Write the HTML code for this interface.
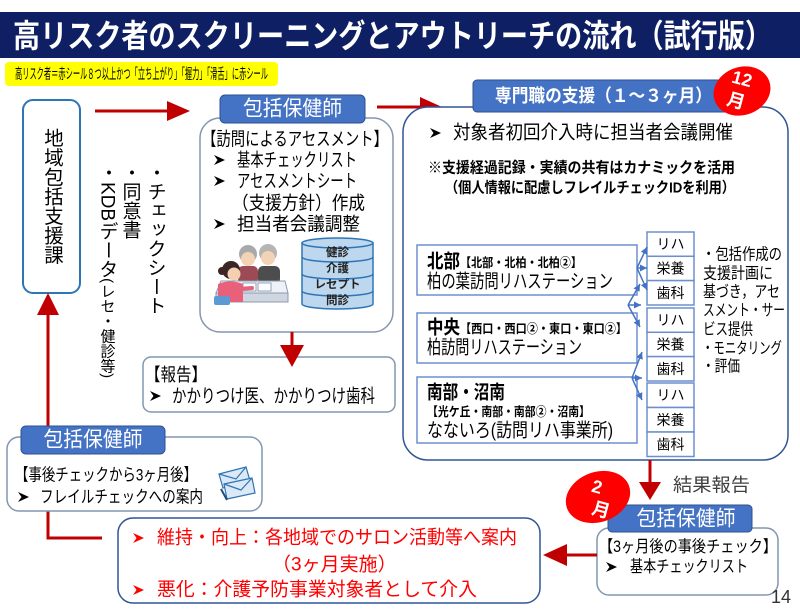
<!DOCTYPE html>
<html><head><meta charset="utf-8">
<style>
html,body{margin:0;padding:0;background:#fff;}
#c{position:relative;width:800px;height:611px;overflow:hidden;background:#fff;font-family:"Liberation Sans","Noto Sans CJK JP",sans-serif;}
svg{position:absolute;left:0;top:0;}
svg text{font-family:"Liberation Sans","Noto Sans CJK JP",sans-serif;dominant-baseline:central;}
.v{position:absolute;writing-mode:vertical-rl;white-space:nowrap;line-height:1;color:#000;font-family:"Liberation Sans","Noto Sans CJK JP",sans-serif;}
</style></head>
<body><div id="c">
<svg width="800" height="611" viewBox="0 0 800 611" xmlns="http://www.w3.org/2000/svg">
<defs>
<marker id="ba" markerUnits="userSpaceOnUse" markerWidth="8" markerHeight="8" refX="7" refY="3.5" orient="auto"><path d="M0,0 L7,3.5 L0,7 z" fill="#4472c4"/></marker>
<g id="chev"><path d="M0,-5 L11,0 L0,5 L3.5,0 z"/></g>
</defs>

<!-- Title -->
<rect x="0" y="12" width="800" height="46" fill="#0e2063"/>
<text x="13" y="36" font-size="32" font-weight="bold" fill="#fff" textLength="759" lengthAdjust="spacingAndGlyphs">高リスク者のスクリーニングとアウトリーチの流れ（試行版）</text>

<!-- Yellow note -->
<rect x="5" y="62" width="273" height="24" rx="4" fill="#ffff00"/>
<text x="15" y="75" font-size="14.5" fill="#000" textLength="253" lengthAdjust="spacingAndGlyphs">高リスク者＝赤シール８つ以上かつ「立ち上がり」「握力」「滑舌」に赤シール</text>

<!-- Left box -->
<rect x="23" y="100" width="57" height="193" rx="10" fill="#fff" stroke="#2e75b6" stroke-width="2"/>

<!-- Red arrows -->
<line x1="95" y1="111" x2="170" y2="111" stroke="#c00000" stroke-width="3"/>
<polygon points="167,101 190,111 167,121" fill="#c00000"/>
<line x1="377" y1="107" x2="424" y2="107" stroke="#c00000" stroke-width="3"/>
<polygon points="420,97 442,107 420,118" fill="#c00000"/>
<line x1="48" y1="312" x2="48" y2="427" stroke="#c00000" stroke-width="3"/>
<polygon points="37,315 59,315 48,293" fill="#c00000"/>
<polyline points="48,511 48,538 102,538" fill="none" stroke="#c00000" stroke-width="3"/>

<!-- Middle main box -->
<rect x="200" y="118" width="193" height="214" rx="20" fill="#fff" stroke="#8496b0" stroke-width="1.5"/>
<rect x="220" y="95" width="145" height="28" rx="5" fill="#4472c4" stroke="#2f528f" stroke-width="1"/>
<text x="292.5" y="109" font-size="21" fill="#fff" text-anchor="middle" textLength="99" lengthAdjust="spacingAndGlyphs">包括保健師</text>
<text x="202" y="139" font-size="18.5" fill="#000" textLength="186" lengthAdjust="spacingAndGlyphs">【訪問によるアセスメント】</text>
<use href="#chev" x="214" y="160"/>
<text x="237" y="160" font-size="18.5" fill="#000" textLength="120" lengthAdjust="spacingAndGlyphs">基本チェックリスト</text>
<use href="#chev" x="214" y="181"/>
<text x="237" y="181" font-size="18.5" fill="#000" textLength="120" lengthAdjust="spacingAndGlyphs">アセスメントシート</text>
<text x="232" y="203" font-size="18.5" fill="#000" textLength="133" lengthAdjust="spacingAndGlyphs">（支援方針）作成</text>
<use href="#chev" x="214" y="224"/>
<text x="237" y="224" font-size="18.5" fill="#000" textLength="123" lengthAdjust="spacingAndGlyphs">担当者会議調整</text>

<!-- Illustration -->
<circle cx="248" cy="254" r="9" fill="#a9a9a9"/>
<circle cx="248" cy="259" r="7" fill="#f3d3b5"/>
<rect x="238" y="266" width="20" height="18" rx="5" fill="#9c4a55"/>
<circle cx="268" cy="253" r="9" fill="#b5b5b5"/>
<circle cx="268" cy="258" r="7" fill="#f3d3b5"/>
<rect x="258" y="266" width="22" height="18" rx="5" fill="#4d4d4d"/>
<polygon points="221,281 285,281 288,293 216,293" fill="#eef2f7" stroke="#8a9bb0" stroke-width="1"/>
<rect x="216" y="293" width="72" height="9" fill="#cfd6e0" stroke="#8a9bb0" stroke-width="1"/>
<rect x="243" y="283" width="13" height="8" fill="#fff" stroke="#7b8fb0" stroke-width="0.8"/>
<rect x="258" y="283" width="13" height="8" fill="#fff" stroke="#7b8fb0" stroke-width="0.8"/>
<circle cx="222" cy="271" r="4" fill="#3b2626"/>
<circle cx="231" cy="270" r="9" fill="#3b2626"/>
<circle cx="234" cy="274" r="6.5" fill="#f5d0b0"/>
<path d="M218,284 Q230,279 243,284 L243,302 L218,302 Z" fill="#e8607a"/>
<line x1="238" y1="289" x2="252" y2="288" stroke="#e8607a" stroke-width="4" stroke-linecap="round"/>
<rect x="214" y="296" width="16" height="9" rx="2" fill="#5b9bd5"/>

<!-- Database cylinder -->
<path d="M302,243 L302,304 A35.5,5 0 0 0 373,304 L373,243 Z" fill="#bdd7ee" stroke="#2e75b6" stroke-width="1.5"/>
<ellipse cx="337.5" cy="243" rx="35.5" ry="5" fill="#bdd7ee" stroke="#2e75b6" stroke-width="1.5"/>
<path d="M302,257 A35.5,5 0 0 0 373,257" fill="none" stroke="#2e75b6" stroke-width="1.5"/>
<path d="M302,274 A35.5,5 0 0 0 373,274" fill="none" stroke="#2e75b6" stroke-width="1.5"/>
<path d="M302,291 A35.5,5 0 0 0 373,291" fill="none" stroke="#2e75b6" stroke-width="1.5"/>
<text x="337.5" y="253" font-size="11.5" font-weight="bold" fill="#222" text-anchor="middle">健診</text>
<text x="337.5" y="269" font-size="11.5" font-weight="bold" fill="#222" text-anchor="middle">介護</text>
<text x="337.5" y="285" font-size="11.5" font-weight="bold" fill="#222" text-anchor="middle">レセプト</text>
<text x="337.5" y="301" font-size="11.5" font-weight="bold" fill="#222" text-anchor="middle">問診</text>

<!-- Report box + arrow -->
<rect x="143" y="357" width="252" height="55" rx="8" fill="#fff" stroke="#8496b0" stroke-width="1.5"/>
<line x1="292" y1="332" x2="292" y2="348" stroke="#c00000" stroke-width="3"/>
<polygon points="280,345 304,345 292,367" fill="#c00000"/>
<text x="145" y="375" font-size="18" fill="#000" textLength="62" lengthAdjust="spacingAndGlyphs">【報告】</text>
<use href="#chev" x="150" y="396"/>
<text x="172" y="396" font-size="18.5" fill="#000" textLength="203" lengthAdjust="spacingAndGlyphs">かかりつけ医、かかりつけ歯科</text>

<!-- Right big box -->
<rect x="403" y="107" width="385" height="353" rx="25" fill="#fff" stroke="#2f5597" stroke-width="1.5"/>
<rect x="473" y="80" width="262" height="32" rx="4" fill="#4472c4" stroke="#2f528f" stroke-width="1"/>
<text x="495" y="96" font-size="18" font-weight="bold" fill="#fff" textLength="217" lengthAdjust="spacingAndGlyphs">専門職の支援（１～３ヶ月）</text>
<ellipse cx="742" cy="91" rx="29" ry="24" fill="#ff0000" transform="rotate(-20 742 91)"/>
<text x="742" y="79" font-size="18" font-weight="bold" fill="#fff" text-anchor="middle" transform="rotate(15 742 79)">12</text>
<text x="736" y="101" font-size="18" font-weight="bold" fill="#fff" text-anchor="middle" transform="rotate(15 736 101)">月</text>

<use href="#chev" x="430" y="133"/>
<text x="453" y="133" font-size="19" fill="#000" textLength="280" lengthAdjust="spacingAndGlyphs">対象者初回介入時に担当者会議開催</text>
<text x="428" y="168" font-size="15" font-weight="bold" fill="#000" textLength="307" lengthAdjust="spacingAndGlyphs">※支援経過記録・実績の共有はカナミックを活用</text>
<text x="445" y="188" font-size="15" font-weight="bold" fill="#000" textLength="290" lengthAdjust="spacingAndGlyphs">（個人情報に配慮しフレイルチェックIDを利用）</text>

<!-- Sub boxes -->
<rect x="417" y="245" width="220" height="50" fill="#fff" stroke="#6d8fcf" stroke-width="1.5"/>
<text x="427" y="262" font-size="19" font-weight="bold" fill="#000" textLength="33" lengthAdjust="spacingAndGlyphs">北部</text>
<text x="460" y="263" font-size="12.5" font-weight="bold" fill="#000" textLength="122" lengthAdjust="spacingAndGlyphs">【北部・北柏・北柏②】</text>
<text x="427" y="282" font-size="19" fill="#000" textLength="186" lengthAdjust="spacingAndGlyphs">柏の葉訪問リハステーション</text>

<rect x="417" y="313" width="220" height="50" fill="#fff" stroke="#6d8fcf" stroke-width="1.5"/>
<text x="427" y="328" font-size="19" font-weight="bold" fill="#000" textLength="33" lengthAdjust="spacingAndGlyphs">中央</text>
<text x="460" y="329" font-size="12.5" font-weight="bold" fill="#000" textLength="167" lengthAdjust="spacingAndGlyphs">【西口・西口②・東口・東口②】</text>
<text x="427" y="348" font-size="19" fill="#000" textLength="155" lengthAdjust="spacingAndGlyphs">柏訪問リハステーション</text>

<rect x="417" y="377" width="220" height="66" fill="#fff" stroke="#6d8fcf" stroke-width="1.5"/>
<text x="427" y="393" font-size="19" font-weight="bold" fill="#000" textLength="78" lengthAdjust="spacingAndGlyphs">南部・沼南</text>
<text x="427" y="412" font-size="12.5" font-weight="bold" fill="#000" textLength="163" lengthAdjust="spacingAndGlyphs">【光ケ丘・南部・南部②・沼南】</text>
<text x="427" y="431" font-size="19" fill="#000" textLength="186" lengthAdjust="spacingAndGlyphs">なないろ(訪問リハ事業所)</text>

<!-- small boxes -->
<g fill="#fff" stroke="#6d8fcf" stroke-width="1.5">
<rect x="647" y="232" width="47" height="24.3"/>
<rect x="647" y="256.3" width="47" height="24.3"/>
<rect x="647" y="280.6" width="47" height="24.4"/>
<rect x="647" y="308" width="47" height="24.3"/>
<rect x="647" y="332.3" width="47" height="24.3"/>
<rect x="647" y="356.6" width="47" height="24.4"/>
<rect x="647" y="383" width="47" height="24.5"/>
<rect x="647" y="407.5" width="47" height="24.5"/>
<rect x="647" y="432" width="47" height="24.5"/>
</g>
<g font-size="14" fill="#000" text-anchor="middle">
<text x="670.5" y="244">リハ</text>
<text x="670.5" y="268.5">栄養</text>
<text x="670.5" y="293">歯科</text>
<text x="670.5" y="320">リハ</text>
<text x="670.5" y="344.5">栄養</text>
<text x="670.5" y="369">歯科</text>
<text x="670.5" y="395">リハ</text>
<text x="670.5" y="420">栄養</text>
<text x="670.5" y="444.5">歯科</text>
</g>

<!-- fan arrows -->
<g stroke="#4472c4" stroke-width="1.5" marker-end="url(#ba)">
<line x1="637" y1="268" x2="647" y2="247"/>
<line x1="637" y1="268" x2="647" y2="268"/>
<line x1="637" y1="268" x2="647" y2="290"/>
<line x1="628" y1="305" x2="640" y2="284"/>
<line x1="628" y1="305" x2="641" y2="305"/>
<line x1="628" y1="305" x2="640" y2="327"/>
<line x1="632" y1="378" x2="642" y2="352"/>
<line x1="632" y1="378" x2="642" y2="378"/>
<line x1="632" y1="378" x2="642" y2="400"/>
</g>

<!-- right text column -->
<g font-size="16" fill="#000">
<text x="702" y="255" textLength="80" lengthAdjust="spacingAndGlyphs">・包括作成の</text>
<text x="703" y="274" textLength="70" lengthAdjust="spacingAndGlyphs">支援計画に</text>
<text x="703" y="292.5" textLength="77" lengthAdjust="spacingAndGlyphs">基づき，アセ</text>
<text x="703" y="311" textLength="82" lengthAdjust="spacingAndGlyphs">スメント・サー</text>
<text x="703" y="330" textLength="50" lengthAdjust="spacingAndGlyphs">ビス提供</text>
<text x="702" y="349" textLength="80" lengthAdjust="spacingAndGlyphs">・モニタリング</text>
<text x="702" y="367" textLength="38" lengthAdjust="spacingAndGlyphs">・評価</text>
</g>

<!-- result report arrow -->
<line x1="650" y1="460" x2="650" y2="485" stroke="#c00000" stroke-width="3"/>
<polygon points="639,482 661,482 650,500" fill="#c00000"/>
<text x="673" y="485" font-size="18.5" fill="#404040" textLength="77" lengthAdjust="spacingAndGlyphs">結果報告</text>

<!-- bottom right box -->
<rect x="597" y="528" width="181" height="67" rx="12" fill="#fff" stroke="#8496b0" stroke-width="1.5"/>
<rect x="608" y="505" width="144" height="27" rx="4" fill="#4472c4" stroke="#2f528f" stroke-width="1"/>
<text x="686" y="519" font-size="21" fill="#fff" text-anchor="middle" textLength="99" lengthAdjust="spacingAndGlyphs">包括保健師</text>
<ellipse cx="598" cy="497" rx="33" ry="25" fill="#ff0000" transform="rotate(-20 598 497)"/>
<text x="597" y="487" font-size="18" font-weight="bold" fill="#fff" text-anchor="middle" transform="rotate(15 597 487)">2</text>
<text x="601" y="510" font-size="18" font-weight="bold" fill="#fff" text-anchor="middle" transform="rotate(15 601 510)">月</text>
<text x="599" y="547" font-size="16.5" fill="#000" textLength="178" lengthAdjust="spacingAndGlyphs">【3ヶ月後の事後チェック】</text>
<use href="#chev" x="606" y="567"/>
<text x="630" y="567" font-size="16.5" fill="#000" textLength="118" lengthAdjust="spacingAndGlyphs">基本チェックリスト</text>
<text x="791" y="597" font-size="18" fill="#333" text-anchor="end">14</text>

<!-- left arrow to bottom red box -->
<line x1="597" y1="555" x2="562" y2="555" stroke="#c00000" stroke-width="3"/>
<polygon points="567,544 543,555 567,566" fill="#c00000"/>

<!-- bottom red box -->
<rect x="118" y="518" width="422" height="85" rx="15" fill="#fff" stroke="#2f5597" stroke-width="1.5"/>
<use href="#chev" x="133" y="538" fill="#ff0000"/>
<text x="157" y="538" font-size="19" fill="#ff0000" textLength="360" lengthAdjust="spacingAndGlyphs">維持・向上：各地域でのサロン活動等へ案内</text>
<text x="272" y="565" font-size="19" fill="#ff0000">（3ヶ月実施）</text>
<use href="#chev" x="133" y="590" fill="#ff0000"/>
<text x="157" y="590" font-size="19" fill="#ff0000" textLength="320" lengthAdjust="spacingAndGlyphs">悪化：介護予防事業対象者として介入</text>

<!-- bottom-left box -->
<rect x="7" y="437" width="255" height="74" rx="12" fill="#fff" stroke="#8496b0" stroke-width="1.5"/>
<rect x="21" y="426" width="144" height="28" rx="5" fill="#4472c4" stroke="#2f528f" stroke-width="1"/>
<text x="93" y="440" font-size="21" fill="#fff" text-anchor="middle" textLength="99" lengthAdjust="spacingAndGlyphs">包括保健師</text>
<text x="15" y="475" font-size="17" fill="#000" textLength="182" lengthAdjust="spacingAndGlyphs">【事後チェックから3ヶ月後】</text>
<use href="#chev" x="18" y="497"/>
<text x="40" y="497" font-size="17" fill="#000" textLength="163" lengthAdjust="spacingAndGlyphs">フレイルチェックへの案内</text>
<!-- envelopes -->
<g stroke="#2e75b6" stroke-width="1.2" fill="#dbe9f7">
<polygon points="219,474 246,467 250,481 223,488"/>
<polyline points="219,474 236,479 246,467" fill="none"/>
<polygon points="224,484 252,478 255,493 227,499"/>
<polyline points="224,484 241,490 252,478" fill="none"/>
</g>
<line x1="221" y1="489" x2="227" y2="500" stroke="#1f4e79" stroke-width="2"/>
</svg>

<div class="v" style="left:41px;top:128px;font-size:19.5px;">地域包括支援課</div>
<div class="v" style="left:145.5px;top:163px;font-size:19px;">・チェックシート</div>
<div class="v" style="left:120.5px;top:163px;font-size:19px;">・同意書</div>
<div class="v" style="left:97.5px;top:163px;font-size:19px;">・KDBデータ<span style="font-size:15px;">(レセ・健診等)</span></div>
</div></body></html>
